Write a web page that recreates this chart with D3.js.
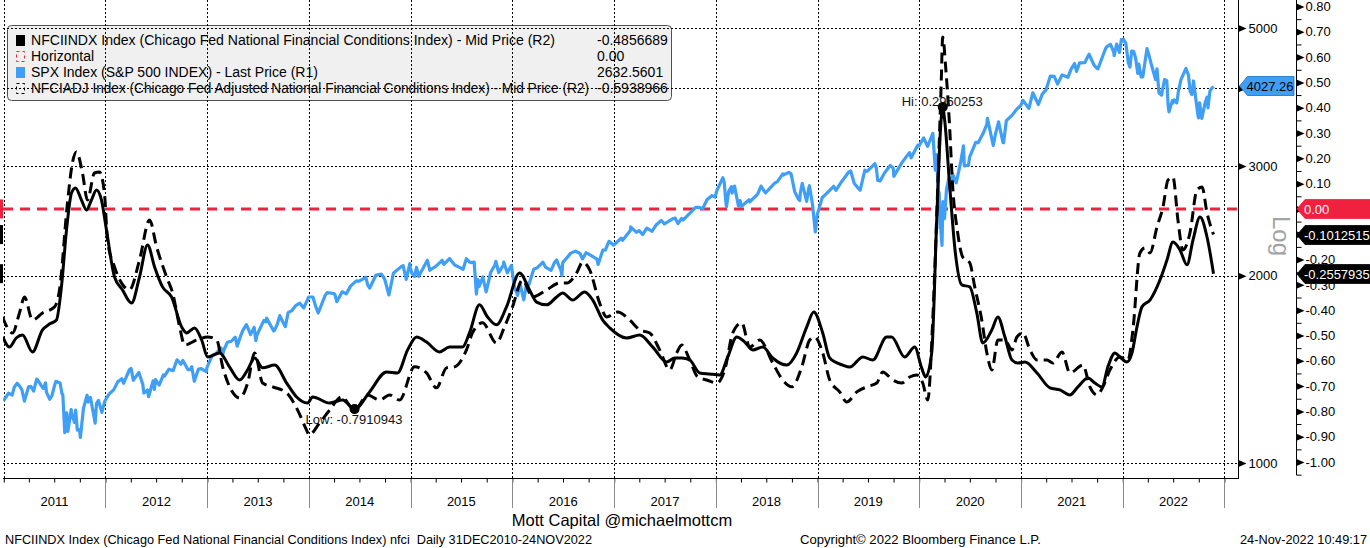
<!DOCTYPE html>
<html><head><meta charset="utf-8">
<script src="https://cdn.jsdelivr.net/npm/d3@7"></script>
<style>
html,body{margin:0;padding:0;background:#fff;}
svg{display:block;font-family:"Liberation Sans",Arial,sans-serif;}
</style></head><body>
<svg id="c" width="1370" height="548"></svg>
<script>
// ---------------- DATA ----------------
const yearLabels = ["2011","2012","2013","2014","2015","2016","2017","2018","2019","2020","2021","2022"];
const spxTicks = [1000, 2000, 3000, 4000, 5000];
const r2Ticks = [-1.0,-0.9,-0.8,-0.7,-0.6,-0.5,-0.4,-0.3,-0.2,-0.1,0.0,0.1,0.2,0.3,0.4,0.5,0.6,0.7,0.8];
const horizontalLevel = 0.0;
const legendLabels = [
  "NFCIINDX Index (Chicago Fed National Financial Conditions Index) - Mid Price (R2)",
  "Horizontal",
  "SPX Index (S&P 500 INDEX) - Last Price (R1)",
  "NFCIADJ Index (Chicago Fed Adjusted National Financial Conditions Index) - Mid Price (R2)"
];
const legendValues = ["-0.4856689", "0.00", "2632.5601", "-0.5938966"];
const lastSPX = 4027.26;
const lastNFCI = -0.2557935;
const lastANFCI = -0.1012515;
const hiText = "Hi: 0.2960253";
const lowText = "Low: -0.7910943";

// NFCI (solid), [decimal year, value]
const nfci = [
[2010.99,-0.505],[2011.056,-0.546],[2011.122,-0.510],[2011.184,-0.498],[2011.282,-0.565],[2011.381,-0.478],[2011.449,-0.455],[2011.518,-0.439],[2011.567,-0.308],[2011.617,-0.083],[2011.666,0.063],[2011.705,0.083],[2011.764,0.035],[2011.813,-0.004],[2011.862,0.035],[2011.912,0.075],[2011.961,0.035],[2012.010,-0.083],[2012.089,-0.269],[2012.167,-0.320],[2012.256,-0.372],[2012.334,-0.269],[2012.413,-0.142],[2012.482,-0.229],[2012.560,-0.308],[2012.649,-0.348],[2012.747,-0.466],[2012.796,-0.490],[2012.875,-0.470],[2012.944,-0.518],[2013.003,-0.585],[2013.121,-0.569],[2013.219,-0.625],[2013.318,-0.676],[2013.396,-0.636],[2013.465,-0.589],[2013.544,-0.628],[2013.662,-0.617],[2013.780,-0.688],[2013.878,-0.743],[2013.986,-0.767],[2014.035,-0.743],[2014.203,-0.767],[2014.330,-0.755],[2014.448,-0.791],[2014.596,-0.723],[2014.763,-0.644],[2014.871,-0.648],[2014.970,-0.557],[2015.058,-0.506],[2015.156,-0.526],[2015.284,-0.565],[2015.382,-0.546],[2015.510,-0.546],[2015.579,-0.490],[2015.677,-0.379],[2015.756,-0.427],[2015.844,-0.458],[2015.943,-0.387],[2016.071,-0.253],[2016.169,-0.320],[2016.238,-0.368],[2016.336,-0.379],[2016.435,-0.348],[2016.494,-0.332],[2016.592,-0.360],[2016.710,-0.328],[2016.789,-0.360],[2016.887,-0.439],[2016.956,-0.470],[2017.123,-0.510],[2017.251,-0.498],[2017.379,-0.546],[2017.516,-0.605],[2017.595,-0.589],[2017.664,-0.589],[2017.743,-0.597],[2017.841,-0.648],[2017.939,-0.652],[2018.038,-0.656],[2018.117,-0.585],[2018.205,-0.506],[2018.284,-0.526],[2018.362,-0.557],[2018.461,-0.546],[2018.559,-0.589],[2018.697,-0.617],[2018.795,-0.569],[2018.894,-0.466],[2018.963,-0.407],[2019.051,-0.490],[2019.120,-0.589],[2019.248,-0.617],[2019.317,-0.625],[2019.445,-0.585],[2019.543,-0.597],[2019.680,-0.506],[2019.729,-0.506],[2019.857,-0.585],[2019.956,-0.546],[2020.024,-0.628],[2020.064,-0.664],[2020.123,-0.569],[2020.172,-0.044],[2020.215,0.351],[2020.231,0.403],[2020.250,0.351],[2020.300,0.087],[2020.355,-0.174],[2020.418,-0.300],[2020.496,-0.308],[2020.565,-0.411],[2020.624,-0.530],[2020.713,-0.478],[2020.772,-0.427],[2020.841,-0.506],[2020.910,-0.597],[2020.969,-0.609],[2021.038,-0.605],[2021.156,-0.648],[2021.284,-0.707],[2021.382,-0.715],[2021.480,-0.735],[2021.559,-0.703],[2021.657,-0.668],[2021.726,-0.688],[2021.795,-0.703],[2021.854,-0.624],[2021.923,-0.569],[2021.972,-0.585],[2022.041,-0.605],[2022.091,-0.569],[2022.140,-0.466],[2022.189,-0.387],[2022.268,-0.360],[2022.366,-0.281],[2022.435,-0.202],[2022.494,-0.131],[2022.563,-0.162],[2022.632,-0.221],[2022.691,-0.123],[2022.760,-0.032],[2022.829,-0.111],[2022.893,-0.256]
];

// Adjusted NFCI (dashed), [decimal year, value]
const anfci = [
[2010.987,-0.427],[2011.086,-0.490],[2011.154,-0.411],[2011.204,-0.348],[2011.282,-0.439],[2011.381,-0.411],[2011.499,-0.387],[2011.548,-0.320],[2011.626,0.023],[2011.675,0.182],[2011.715,0.225],[2011.774,0.142],[2011.823,0.035],[2011.892,0.142],[2011.941,0.146],[2011.990,0.063],[2012.020,-0.122],[2012.089,-0.229],[2012.158,-0.293],[2012.236,-0.320],[2012.334,-0.202],[2012.433,-0.044],[2012.502,-0.150],[2012.600,-0.269],[2012.659,-0.332],[2012.728,-0.466],[2012.777,-0.538],[2012.895,-0.518],[2013.003,-0.506],[2013.092,-0.518],[2013.151,-0.625],[2013.219,-0.703],[2013.318,-0.747],[2013.396,-0.688],[2013.465,-0.569],[2013.544,-0.688],[2013.642,-0.703],[2013.780,-0.727],[2013.888,-0.795],[2013.976,-0.874],[2014.000,-0.893],[2014.104,-0.846],[2014.203,-0.795],[2014.321,-0.743],[2014.448,-0.795],[2014.576,-0.735],[2014.694,-0.755],[2014.792,-0.735],[2014.891,-0.755],[2015.038,-0.624],[2015.156,-0.648],[2015.254,-0.707],[2015.353,-0.628],[2015.431,-0.624],[2015.549,-0.557],[2015.608,-0.490],[2015.706,-0.450],[2015.844,-0.530],[2015.923,-0.466],[2016.002,-0.387],[2016.100,-0.281],[2016.199,-0.348],[2016.336,-0.320],[2016.464,-0.293],[2016.533,-0.293],[2016.631,-0.253],[2016.690,-0.210],[2016.759,-0.241],[2016.857,-0.372],[2016.926,-0.427],[2017.034,-0.407],[2017.152,-0.439],[2017.251,-0.478],[2017.349,-0.490],[2017.447,-0.557],[2017.546,-0.636],[2017.615,-0.569],[2017.664,-0.538],[2017.743,-0.597],[2017.821,-0.664],[2017.910,-0.676],[2018.008,-0.688],[2018.087,-0.636],[2018.166,-0.490],[2018.254,-0.450],[2018.333,-0.546],[2018.431,-0.518],[2018.559,-0.609],[2018.658,-0.676],[2018.746,-0.703],[2018.845,-0.624],[2018.923,-0.518],[2018.972,-0.506],[2019.051,-0.569],[2019.120,-0.676],[2019.218,-0.723],[2019.287,-0.763],[2019.386,-0.723],[2019.484,-0.703],[2019.583,-0.688],[2019.641,-0.644],[2019.740,-0.676],[2019.828,-0.688],[2019.907,-0.664],[2019.976,-0.656],[2020.035,-0.688],[2020.084,-0.755],[2020.133,-0.439],[2020.182,0.087],[2020.215,0.482],[2020.231,0.679],[2020.262,0.549],[2020.295,0.351],[2020.329,0.087],[2020.378,-0.095],[2020.427,-0.190],[2020.496,-0.213],[2020.545,-0.308],[2020.614,-0.439],[2020.664,-0.569],[2020.713,-0.636],[2020.772,-0.518],[2020.841,-0.518],[2020.910,-0.557],[2020.959,-0.506],[2021.018,-0.490],[2021.087,-0.557],[2021.156,-0.597],[2021.254,-0.597],[2021.313,-0.609],[2021.402,-0.565],[2021.480,-0.648],[2021.608,-0.617],[2021.677,-0.703],[2021.746,-0.735],[2021.805,-0.703],[2021.874,-0.636],[2021.972,-0.585],[2022.051,-0.597],[2022.100,-0.478],[2022.169,-0.174],[2022.218,-0.154],[2022.268,-0.174],[2022.337,-0.071],[2022.396,0.008],[2022.445,0.114],[2022.494,0.126],[2022.543,-0.044],[2022.592,-0.162],[2022.661,-0.095],[2022.730,0.075],[2022.780,0.087],[2022.829,-0.016],[2022.893,-0.101]
];

// S&P 500 (blue), [date, close]
const spx = [
["2010-12-31",1258],["2011-01-18",1295],["2011-01-31",1286],["2011-02-08",1325],["2011-02-18",1343],["2011-02-28",1327],["2011-03-07",1311],["2011-03-16",1257],["2011-03-31",1326],["2011-04-08",1328],["2011-04-18",1305],["2011-04-29",1364],["2011-05-02",1361],["2011-05-16",1330],["2011-05-23",1317],["2011-05-31",1345],["2011-06-03",1300],["2011-06-15",1266],["2011-06-23",1283],["2011-06-30",1321],["2011-07-07",1353],["2011-07-22",1345],["2011-07-29",1292],["2011-08-01",1287],["2011-08-08",1119],["2011-08-11",1172],["2011-08-15",1204],["2011-08-19",1124],["2011-08-31",1219],["2011-09-01",1204],["2011-09-12",1162],["2011-09-16",1216],["2011-09-22",1129],["2011-09-30",1131],["2011-10-03",1099],["2011-10-14",1224],["2011-10-27",1285],["2011-10-31",1253],["2011-11-08",1275],["2011-11-25",1159],["2011-11-30",1247],["2011-12-07",1261],["2011-12-19",1206],["2011-12-30",1258],
["2012-01-13",1289],["2012-01-31",1312],["2012-02-14",1350],["2012-02-29",1366],["2012-03-06",1343],["2012-03-27",1412],["2012-04-02",1419],["2012-04-10",1358],["2012-04-30",1398],["2012-05-14",1338],["2012-05-18",1295],["2012-05-31",1310],["2012-06-04",1278],["2012-06-20",1355],["2012-06-25",1313],["2012-06-29",1362],["2012-07-12",1334],["2012-07-27",1385],["2012-07-31",1379],["2012-08-16",1415],["2012-08-31",1407],["2012-09-14",1465],["2012-09-28",1441],["2012-10-05",1461],["2012-10-23",1413],["2012-10-31",1412],["2012-11-06",1428],["2012-11-15",1353],["2012-11-30",1416],["2012-12-10",1418],["2012-12-28",1402],["2012-12-31",1426],
["2013-01-18",1486],["2013-01-31",1498],["2013-02-19",1531],["2013-02-25",1488],["2013-02-28",1515],["2013-03-14",1563],["2013-03-28",1569],["2013-04-11",1593],["2013-04-18",1541],["2013-04-30",1598],["2013-05-08",1632],["2013-05-21",1669],["2013-05-31",1631],["2013-06-05",1608],["2013-06-18",1651],["2013-06-24",1573],["2013-06-28",1606],["2013-07-23",1695],["2013-07-31",1686],["2013-08-02",1709],["2013-08-27",1630],["2013-08-30",1633],["2013-09-09",1671],["2013-09-18",1725],["2013-09-30",1682],["2013-10-08",1656],["2013-10-18",1744],["2013-10-31",1757],["2013-11-14",1790],["2013-11-29",1806],["2013-12-13",1775],["2013-12-31",1848],
["2014-01-15",1848],["2014-01-24",1790],["2014-02-03",1742],["2014-02-28",1859],["2014-03-07",1878],["2014-03-31",1872],["2014-04-04",1865],["2014-04-11",1816],["2014-04-30",1884],["2014-05-15",1870],["2014-05-30",1924],["2014-06-20",1962],["2014-06-30",1960],["2014-07-24",1988],["2014-07-31",1931],["2014-08-07",1910],["2014-08-29",2003],["2014-09-05",2007],["2014-09-18",2011],["2014-09-30",1972],["2014-10-15",1862],["2014-10-31",2018],["2014-11-07",2031],["2014-11-28",2068],["2014-12-05",2075],["2014-12-16",1973],["2014-12-29",2091],["2014-12-31",2059],
["2015-01-05",2020],["2015-01-15",1993],["2015-01-22",2063],["2015-01-30",1995],["2015-02-27",2105],["2015-03-02",2117],["2015-03-11",2040],["2015-03-25",2061],["2015-03-31",2068],["2015-04-24",2117],["2015-04-30",2086],["2015-05-21",2131],["2015-05-29",2107],["2015-06-08",2080],["2015-06-29",2058],["2015-07-08",2046],["2015-07-20",2129],["2015-07-31",2104],["2015-08-05",2099],["2015-08-17",2102],["2015-08-25",1868],["2015-08-31",1972],["2015-09-04",1921],["2015-09-17",1990],["2015-09-29",1884],["2015-10-15",2023],["2015-10-30",2079],["2015-11-03",2109],["2015-11-13",2023],["2015-11-30",2080],["2015-12-01",2103],["2015-12-14",2021],["2015-12-29",2078],["2015-12-31",2044],
["2016-01-08",1922],["2016-01-20",1859],["2016-01-29",1940],["2016-02-11",1829],["2016-02-22",1946],["2016-02-29",1932],["2016-03-18",2049],["2016-03-31",2060],["2016-04-20",2102],["2016-04-29",2065],["2016-05-19",2040],["2016-05-31",2097],["2016-06-08",2119],["2016-06-24",2037],["2016-06-27",2001],["2016-06-30",2099],["2016-07-29",2174],["2016-08-15",2190],["2016-08-31",2171],["2016-09-09",2128],["2016-09-22",2177],["2016-09-30",2168],["2016-10-31",2126],["2016-11-04",2085],["2016-11-21",2198],["2016-11-30",2199],["2016-12-13",2271],["2016-12-30",2239],
["2017-01-26",2297],["2017-01-31",2279],["2017-02-28",2364],["2017-03-01",2396],["2017-03-22",2348],["2017-03-31",2363],["2017-04-13",2329],["2017-04-28",2384],["2017-05-17",2357],["2017-05-31",2412],["2017-06-19",2453],["2017-06-30",2423],["2017-07-31",2470],["2017-08-08",2474],["2017-08-18",2426],["2017-08-31",2472],["2017-09-05",2457],["2017-09-29",2519],["2017-10-20",2575],["2017-10-31",2575],["2017-11-15",2564],["2017-11-30",2648],["2017-12-18",2690],["2017-12-29",2674],
["2018-01-05",2743],["2018-01-12",2786],["2018-01-26",2873],["2018-01-31",2824],["2018-02-05",2649],["2018-02-08",2581],["2018-02-16",2732],["2018-02-26",2780],["2018-02-28",2714],["2018-03-09",2786],["2018-03-23",2588],["2018-03-29",2641],["2018-04-02",2582],["2018-04-30",2648],["2018-05-03",2629],["2018-05-31",2705],["2018-06-12",2786],["2018-06-28",2716],["2018-06-29",2718],["2018-07-31",2816],["2018-08-10",2833],["2018-08-29",2914],["2018-08-31",2902],["2018-09-20",2931],["2018-09-28",2914],["2018-10-11",2729],["2018-10-24",2656],["2018-10-29",2641],["2018-10-31",2712],["2018-11-07",2814],["2018-11-23",2633],["2018-11-30",2760],["2018-12-03",2790],["2018-12-14",2600],["2018-12-24",2351],["2018-12-31",2507],
["2019-01-18",2671],["2019-01-31",2704],["2019-02-28",2784],["2019-03-08",2743],["2019-03-29",2834],["2019-04-23",2934],["2019-04-30",2946],["2019-05-13",2812],["2019-05-31",2752],["2019-06-03",2744],["2019-06-20",2954],["2019-06-28",2942],["2019-07-26",3026],["2019-07-31",2980],["2019-08-05",2845],["2019-08-14",2840],["2019-08-30",2926],["2019-09-19",3006],["2019-09-30",2977],["2019-10-02",2888],["2019-10-31",3038],["2019-11-27",3153],["2019-11-29",3141],["2019-12-03",3093],["2019-12-27",3240],["2019-12-31",3231],
["2020-01-17",3330],["2020-01-31",3226],["2020-02-03",3249],["2020-02-19",3386],["2020-02-28",2954],["2020-03-04",3130],["2020-03-09",2747],["2020-03-13",2711],["2020-03-16",2386],["2020-03-18",2398],["2020-03-23",2237],["2020-03-26",2630],["2020-03-31",2585],["2020-04-01",2470],["2020-04-08",2750],["2020-04-17",2875],["2020-04-21",2737],["2020-04-30",2912],["2020-05-13",2820],["2020-05-29",3044],["2020-06-08",3232],["2020-06-11",3002],["2020-06-26",3009],["2020-06-30",3100],["2020-07-22",3276],["2020-07-31",3271],["2020-08-18",3390],["2020-08-31",3500],["2020-09-02",3580],["2020-09-23",3237],["2020-09-30",3363],["2020-10-12",3534],["2020-10-28",3271],["2020-10-30",3270],["2020-11-09",3550],["2020-11-30",3622],["2020-12-16",3701],["2020-12-31",3756],
["2021-01-08",3824],["2021-01-29",3714],["2021-02-12",3934],["2021-03-04",3768],["2021-03-18",3915],["2021-03-31",3973],["2021-04-16",4185],["2021-04-30",4181],["2021-05-12",4063],["2021-05-28",4204],["2021-06-18",4166],["2021-06-30",4298],["2021-07-12",4384],["2021-07-19",4258],["2021-07-30",4395],["2021-08-18",4400],["2021-08-31",4523],["2021-09-02",4537],["2021-09-20",4358],["2021-09-30",4308],["2021-10-04",4300],["2021-10-29",4605],["2021-11-03",4660],["2021-11-18",4705],["2021-11-30",4567],["2021-12-01",4513],["2021-12-10",4712],["2021-12-20",4568],["2021-12-27",4791],["2021-12-31",4766],
["2022-01-03",4797],["2022-01-12",4726],["2022-01-21",4398],["2022-01-27",4326],["2022-02-02",4589],["2022-02-09",4587],["2022-02-16",4475],["2022-02-24",4226],["2022-02-28",4374],["2022-03-08",4171],["2022-03-14",4173],["2022-03-29",4632],["2022-04-05",4525],["2022-04-12",4397],["2022-04-26",4175],["2022-04-29",4132],["2022-05-04",4300],["2022-05-11",3935],["2022-05-20",3901],["2022-05-31",4132],["2022-06-08",4115],["2022-06-13",3750],["2022-06-16",3667],["2022-06-28",3822],["2022-06-30",3785],["2022-07-05",3831],["2022-07-14",3790],["2022-07-20",3960],["2022-07-29",4130],["2022-08-16",4305],["2022-08-25",4199],["2022-08-31",3955],["2022-09-06",3908],["2022-09-12",4110],["2022-09-20",3856],["2022-09-27",3647],["2022-09-30",3586],["2022-10-04",3791],["2022-10-12",3577],["2022-10-24",3798],["2022-10-31",3872],["2022-11-03",3720],["2022-11-10",3956],["2022-11-15",3991],["2022-11-23",4027]
];

// ---------------- CHART ----------------
const svg = d3.select("#c");
const L = 3, R = 1238, T = 0, B = 478;
const BLUE = "#3f9ef6", RED = "#f0203f";

const x = d3.scaleTime().domain([new Date(2011,0,1), new Date(2023,0,1)]).range([3.8, 1224.4]);
const ySpx = d3.scaleLog().domain([1000, 5000]).range([463, 28]);
const yR2 = d3.scaleLinear().domain([-1, 0.8]).range([462, 6.5]);
const parse = d3.timeParse("%Y-%m-%d");
function decYear(t){ const y=Math.floor(t); const s=new Date(y,0,1), e=new Date(y+1,0,1); return new Date(+s + (t-y)*(e-s)); }
const spxSorted = d3.sort(spx, d=>d[0]);

svg.append("defs").append("clipPath").attr("id","plot").append("rect")
  .attr("x",L).attr("y",T).attr("width",R-L).attr("height",B-T);

// legend background
const lg = svg.append("g");
lg.append("rect").attr("x",7.5).attr("y",25.5).attr("width",664).attr("height",75).attr("rx",4)
  .attr("fill","#f0f0f0").attr("stroke","#505050").attr("stroke-width",1);

// gridlines
const grid = svg.append("g").attr("stroke","#000").attr("stroke-width",1).attr("stroke-dasharray","2,2");
const yearStarts = d3.timeYear.range(new Date(2011,0,1), new Date(2023,0,2));
grid.selectAll(".v").data(yearStarts).join("line")
  .attr("x1",d=>Math.round(x(d))+0.5).attr("x2",d=>Math.round(x(d))+0.5).attr("y1",T).attr("y2",B);
grid.selectAll(".h").data(spxTicks).join("line")
  .attr("x1",L).attr("x2",R).attr("y1",d=>Math.round(ySpx(d))+0.5).attr("y2",d=>Math.round(ySpx(d))+0.5);

const plot = svg.append("g").attr("clip-path","url(#plot)");

// horizontal zero line
plot.append("line").attr("x1",L).attr("x2",R)
  .attr("y1",yR2(horizontalLevel)).attr("y2",yR2(horizontalLevel))
  .attr("stroke",RED).attr("stroke-width",3).attr("stroke-dasharray","10,7");

// SPX
plot.append("path").datum(spxSorted)
  .attr("d", d3.line().x(d=>x(parse(d[0]))).y(d=>ySpx(d[1])))
  .attr("fill","none").attr("stroke",BLUE).attr("stroke-width",3.2).attr("stroke-linejoin","round");

const curve = d3.line().curve(d3.curveMonotoneX).x(d=>x(decYear(d[0]))).y(d=>yR2(d[1]));
plot.append("path").datum(anfci).attr("d",curve)
  .attr("fill","none").attr("stroke","#000").attr("stroke-width",3).attr("stroke-dasharray","11,6");
plot.append("path").datum(nfci).attr("d",curve)
  .attr("fill","none").attr("stroke","#000").attr("stroke-width",3);

// hi / low markers
const hi = d3.greatest(nfci, d=>d[1]);
const lo = d3.least(nfci, d=>d[1]);
const hx = x(decYear(hi[0])), hy = yR2(hi[1]);
const lx = x(decYear(lo[0])), ly = yR2(lo[1]);
svg.append("circle").attr("cx",hx).attr("cy",hy).attr("r",5).attr("fill","#000");
svg.append("circle").attr("cx",lx).attr("cy",ly).attr("r",5).attr("fill","#000");
svg.append("text").attr("x",hx-41).attr("y",hy-1).attr("font-size",13).attr("fill","#111").text(hiText);
svg.append("text").attr("x",lx-49).attr("y",ly+15).attr("font-size",13).attr("fill","#111").text(lowText);

// legend content
const rowsY = [40,56,72,88];
const rowWidths = [524, null, null, 558];
legendLabels.forEach((t,i)=>{
  const tx = lg.append("text").attr("x",31).attr("y",rowsY[i]+5).attr("font-size",14).attr("fill","#000").text(t);
  if (rowWidths[i]) tx.attr("textLength",rowWidths[i]).attr("lengthAdjust","spacingAndGlyphs");
  lg.append("text").attr("x",597).attr("y",rowsY[i]+5).attr("font-size",14).attr("fill","#000").text(legendValues[i]);
});
lg.append("rect").attr("x",16).attr("y",rowsY[0]-5).attr("width",9).attr("height",11).attr("fill","#000");
lg.append("rect").attr("x",16.5).attr("y",rowsY[1]-4.5).attr("width",8).attr("height",10).attr("fill","none")
  .attr("stroke",RED).attr("stroke-width",1).attr("stroke-dasharray","3,3");
lg.append("rect").attr("x",16).attr("y",rowsY[2]-5).attr("width",9).attr("height",11).attr("fill",BLUE);
lg.append("rect").attr("x",16.5).attr("y",rowsY[3]-4.5).attr("width",8).attr("height",10).attr("fill","none")
  .attr("stroke","#000").attr("stroke-width",1).attr("stroke-dasharray","3,3");

// frame lines
svg.append("line").attr("x1",L).attr("x2",R+0.5).attr("y1",B+0.5).attr("y2",B+0.5).attr("stroke","#000");
svg.append("line").attr("x1",R+0.5).attr("x2",R+0.5).attr("y1",0).attr("y2",B+1).attr("stroke","#000");

// x axis: quarterly minor ticks
const xAxis = d3.axisBottom(x).ticks(d3.timeMonth.every(3)).tickSize(4).tickFormat("");
const xg = svg.append("g").attr("transform",`translate(0,${B+0.5})`).call(xAxis);
xg.select(".domain").remove();
xg.selectAll(".tick").filter(d=>+x(d)>R || +x(d)<L).remove();
// year separators
svg.append("g").selectAll("line").data(yearStarts.slice(1)).join("line")
  .attr("x1",d=>Math.round(x(d))+0.5).attr("x2",d=>Math.round(x(d))+0.5)
  .attr("y1",B+1).attr("y2",508).attr("stroke","#8a8a8a");
svg.append("g").selectAll("text").data(yearLabels).join("text")
  .attr("x",(d)=>x(new Date(+d,6,2))).attr("y",506).attr("text-anchor","middle")
  .attr("font-size",13).attr("fill","#000").text(d=>d);

// left-axis tags (clipped)
[[horizontalLevel,RED],[lastANFCI,"#000"],[lastNFCI,"#000"]].forEach(([v,c])=>{
  svg.append("rect").attr("x",0).attr("y",yR2(v)-9.5).attr("width",3).attr("height",19).attr("fill",c);
});

// SPX axis (R1)
const tri = "M0,-3.5L8,0L0,3.5Z";
const a1 = d3.axisRight(ySpx).tickValues(spxTicks).tickSize(0).tickPadding(10).tickFormat(d3.format("d"));
const g1 = svg.append("g").attr("transform",`translate(${R+0.5},0)`).call(a1);
g1.select(".domain").remove();
g1.selectAll("text").attr("font-family","Liberation Sans, Arial").attr("font-size",13).attr("fill","#000");
g1.selectAll(".tick").append("path").attr("d",tri).attr("fill","#000");

// R2 axis
const a2 = d3.axisRight(yR2).tickValues(r2Ticks).tickSize(0).tickPadding(9).tickFormat(d=>d.toFixed(2));
const g2 = svg.append("g").attr("transform",`translate(1296.5,0)`).call(a2);
g2.select(".domain").remove();
g2.selectAll("text").attr("font-family","Liberation Sans, Arial").attr("font-size",13).attr("fill","#000");
g2.selectAll(".tick").append("path").attr("d",tri).attr("fill","#000");
svg.append("line").attr("x1",1296.5).attr("x2",1296.5).attr("y1",0).attr("y2",475).attr("stroke","#000");
const minor = d3.range(-21,17).map(i=>i*0.05).filter(v=>yR2(v)>=0 && yR2(v)<=476);
const a2m = d3.axisRight(yR2).tickValues(minor).tickSize(5).tickFormat("");
const g2m = svg.append("g").attr("transform",`translate(1296.5,0)`).call(a2m);
g2m.select(".domain").remove();

// Log label, placed by its rendered box
const logT = svg.append("text").attr("transform","translate(1271,235) rotate(90)").attr("text-anchor","middle")
  .attr("font-size",24).attr("fill","#a3a3a3").text("Log");
{
  const sb = svg.node().getBoundingClientRect();
  const bb = logT.node().getBoundingClientRect();
  const cx = bb.left - sb.left + bb.width/2, cy = bb.top - sb.top + bb.height/2;
  const dx = 1281 - cx, dy = 236 - cy;
  logT.attr("transform",`translate(${1271+dx},${235+dy}) rotate(90)`);
}

// value tags
function tagLeft(yv, x0, x1, fill, txt, txtFill){
  const y0 = Math.round(yv);
  svg.append("path").attr("d",`M${x0},${y0}L${x0+8},${y0-9.5}L${x1},${y0-9.5}L${x1},${y0+9.5}L${x0+8},${y0+9.5}Z`)
    .attr("fill",fill).attr("stroke", fill===BLUE? "#1a6fc0" : fill).attr("stroke-width",0.8);
  svg.append("text").attr("x",x0+7).attr("y",y0+4.5).attr("font-size",13).attr("fill",txtFill).text(txt);
}
tagLeft(ySpx(lastSPX), 1239.5, 1294, BLUE, lastSPX.toFixed(2), "#000");
tagLeft(yR2(horizontalLevel), 1297, 1371, RED, "0.00", "#fff");
tagLeft(yR2(lastANFCI), 1297, 1371, "#000", lastANFCI.toFixed(7), "#fff");
tagLeft(yR2(lastNFCI), 1297, 1371, "#000", lastNFCI.toFixed(7), "#fff");

// footer
svg.append("text").attr("x",622).attr("y",526).attr("text-anchor","middle").attr("font-size",16.5).attr("fill","#000")
  .text("Mott Capital @michaelmottcm");
svg.append("text").attr("x",5).attr("y",544).attr("font-size",13).attr("fill","#000")
  .attr("textLength",587).attr("lengthAdjust","spacingAndGlyphs").attr("xml:space","preserve")
  .text("NFCIINDX Index (Chicago Fed National Financial Conditions Index) nfci  Daily 31DEC2010-24NOV2022");
svg.append("text").attr("x",800).attr("y",544).attr("font-size",13).attr("fill","#000")
  .attr("textLength",241).attr("lengthAdjust","spacingAndGlyphs")
  .text("Copyright\u00A9 2022 Bloomberg Finance L.P.");
svg.append("text").attr("x",1240).attr("y",544).attr("font-size",13).attr("fill","#000")
  .attr("textLength",127).attr("lengthAdjust","spacingAndGlyphs")
  .text("24-Nov-2022 10:49:17");
</script>
</body></html>
